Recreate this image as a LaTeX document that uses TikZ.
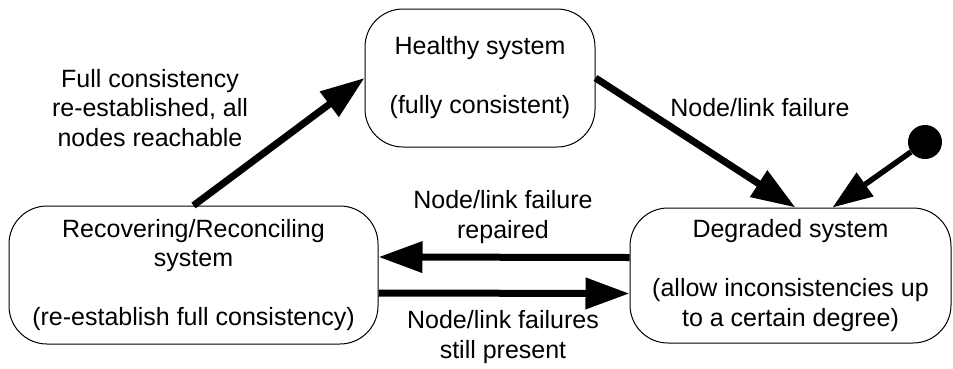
\documentclass[tikz,border=0pt]{standalone}
\usepackage{fontspec}
\setmainfont{Liberation Sans}
\usetikzlibrary{arrows.meta}
\begin{document}
\begin{tikzpicture}[x=1pt,y=-1pt,
  state/.style={draw, line width=1pt, rounded corners=38pt, inner sep=0pt,
    align=center, font=\fontsize{25}{29.5}\selectfont},
  lbl/.style={align=center, inner sep=0pt, font=\fontsize{25}{29.5}\selectfont},
  trans/.style={line width=7pt, -{Triangle[length=44pt,width=30pt]}},
  initarrow/.style={line width=5.5pt, -{Triangle[length=40pt,width=28pt]}},
]
\useasboundingbox (0,0) rectangle (953,368);

% states
\node[state, minimum width=230pt, minimum height=138pt] (healthy) at (480,78)
  {Healthy system\\[29.5pt](fully consistent)};
\node[state, minimum width=369pt, minimum height=138pt] (recov) at (193.5,275)
  {Recovering/Reconciling\\system\\[29.5pt](re-establish full consistency)};
\node[state, minimum width=321pt, minimum height=135pt] (degraded) at (790.5,275.5)
  {Degraded system\\[29.5pt](allow inconsistencies up\\to a certain degree)};

% initial pseudo-state
\node[circle, fill=black, minimum size=34pt, inner sep=0pt] (init) at (925,142) {};

% transitions
\draw[trans] (recov.north) -- (healthy.west);
\draw[trans] (healthy.east) -- ([xshift=5pt]degraded.north);
\draw[initarrow] (init) -- ([xshift=42pt]degraded.north);
\draw[trans] ([yshift=18pt]degraded.west) -- ([yshift=18pt]recov.east);
\draw[trans] ([yshift=-18pt]recov.east) -- ([yshift=-18pt]degraded.west);

% transition labels
\node[lbl] (lrec) at (150,108) {Full consistency\\re-established, all\\nodes reachable};
\node[lbl] (lfail) at (760,108) {Node/link failure};
\node[lbl] (lrep) at (503,217) {Node/link failure\\repaired};
\node[lbl] (lstill) at (503,337) {Node/link failures\\still present};
\end{tikzpicture}
\end{document}
